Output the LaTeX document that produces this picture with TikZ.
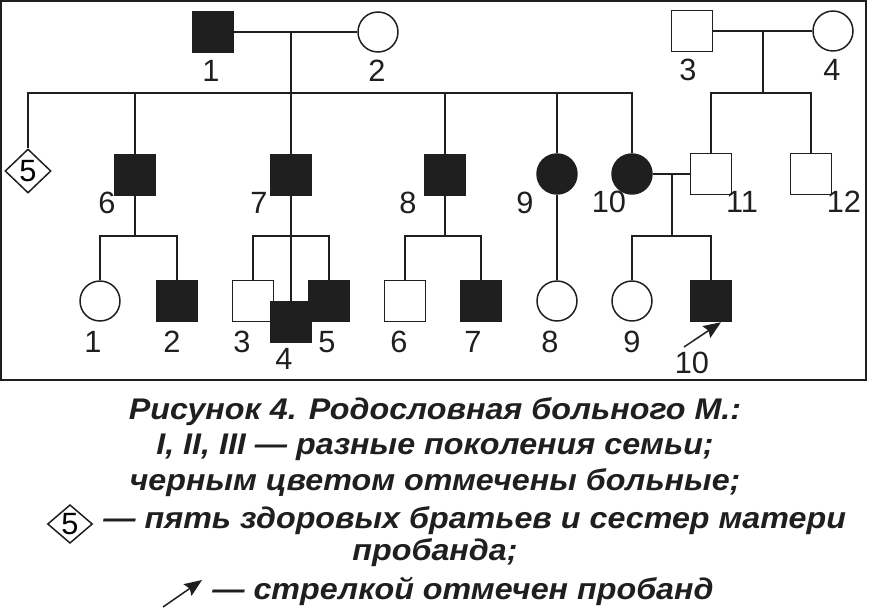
\documentclass[tikz,border=0pt]{standalone}
\usepackage{fontspec}
\setmainfont{Liberation Sans}
\newfontfamily\capfont[FakeStretch=1.08]{Liberation Sans}
\usetikzlibrary{shapes,arrows,positioning,calc,arrows.meta}
\colorlet{ink}{black!88}

\begin{document}
\begin{tikzpicture}[
    x=0.02cm, y=-0.02cm,
    male/.style={rectangle, draw=ink, line width=0.85pt, minimum size=0.82cm, inner sep=0pt, fill=white},
    female/.style={circle, draw=ink, line width=0.85pt, minimum size=0.8cm, inner sep=0pt, fill=white},
    ill/.style={fill=ink},
    sibs/.style={diamond, draw=ink, line width=0.85pt, minimum width=0.92cm, minimum height=0.88cm, inner sep=0pt, font=\fontsize{17.5}{20}\selectfont, fill=white},
    num/.style={font=\fontsize{17.5}{20}\selectfont, text=ink, inner sep=0pt},
    caption/.style={font=\fontsize{17}{20}\capfont\bfseries\itshape, text=ink, inner sep=0pt},
    line/.style={line width=0.85pt, ink},
    probarrow/.style={-{Stealth[length=10pt, width=8pt, inset=1.5pt]}, line width=0.85pt, ink}
]
\useasboundingbox (0,0) rectangle (870,612);

% Frame
\draw[line width=1.2pt, ink] (1,1) rectangle (866,380);

% Generation I
\node[male, ill] (m1) at (213,32) {};
\node[female] (f2) at (378,32) {};
\node[male] (m3) at (692,31) {};
\node[female] (f4) at (833,31) {};
\coordinate (j12) at (291,32);
\coordinate (j34) at (763,31);

% Generation II
\coordinate (g2) at (0,93);
\node[sibs] (d5) at (28,171) {5};
\node[male, ill] (s6) at (135,175) {};
\node[male, ill] (s7) at (291,175) {};
\node[male, ill] (s8) at (445,175) {};
\node[female, ill] (c9) at (557,174) {};
\node[female, ill] (c10) at (632,174) {};
\node[male] (s11) at (711,174) {};
\node[male] (s12) at (811,174) {};
\coordinate (j1011) at (672,174);

% Generation III
\coordinate (g3) at (0,236);
\node[female] (iii1) at (100,301) {};
\node[male, ill] (iii2) at (177,301) {};
\node[male] (iii3) at (253,301) {};
\node[male, ill] (iii5) at (329,301) {};
\node[male, ill] (iii4) at (291,322) {};
\node[male] (iii6) at (405,301) {};
\node[male, ill] (iii7) at (481,301) {};
\node[female] (iii8) at (557,301) {};
\node[female] (iii9) at (632,301) {};
\node[male, ill] (iii10) at (711,301) {};

% Marriages and descent
\draw[line] (m1) -- (f2);
\draw[line] (j12) -- (s7.north);
\draw[line] (d5.north) |- (c10.north |- g2) -- (c10.north);
\draw[line] (s6.north) -- (s6.north |- g2);
\draw[line] (s8.north) -- (s8.north |- g2);
\draw[line] (c9.north) -- (c9.north |- g2);
\draw[line] (m3) -- (f4);
\draw[line] (j34) -- (j34 |- g2);
\draw[line] (s11.north) |- (s12.north |- g2) -- (s12.north);
\draw[line] (c10) -- (s11);

\draw[line] (s6.south) -- (s6.south |- g3);
\draw[line] (iii1.north) |- (iii2.north |- g3) -- (iii2.north);
\draw[line] (s7.south) -- (iii4.north);
\draw[line] (iii3.north) |- (iii5.north |- g3) -- (iii5.north);
\draw[line] (s8.south) -- (s8.south |- g3);
\draw[line] (iii6.north) |- (iii7.north |- g3) -- (iii7.north);
\draw[line] (c9.south) -- (iii8.north);
\draw[line] (j1011) -- (j1011 |- g3);
\draw[line] (iii9.north) |- (iii10.north |- g3) -- (iii10.north);

% Proband
\coordinate (pa) at (684,347);
\draw[probarrow] (pa) -- ($(iii10.south)+(10,0)$);

% Numbers
\node[num] (n1) at (211,71) {1};
\node[num] (n2) at (377,71) {2};
\node[num] (n3) at (688,70) {3};
\node[num] (n4) at (832,70) {4};
\node[num] (n6) at (107,203) {6};
\node[num] (n7) at (259,203) {7};
\node[num] (n8) at (408,203) {8};
\node[num] (n9) at (525,203) {9};
\node[num] (n10) at (609,202) {10};
\node[num] (n11) at (742,202) {11};
\node[num] (n12) at (844,202) {12};
\node[num] (m1n) at (93,342) {1};
\node[num] (m2n) at (172,342) {2};
\node[num] (m3n) at (242,342) {3};
\node[num] (m4n) at (284,359) {4};
\node[num] (m5n) at (327,342) {5};
\node[num] (m6n) at (399,342) {6};
\node[num] (m7n) at (473,342) {7};
\node[num] (m8n) at (550,342) {8};
\node[num] (m9n) at (632,342) {9};
\node[num] (m10n) at (692,363) {10};

% Caption
\node[caption] (cap1) at (435,412) {Рисунок 4. Родословная больного М.:};
\node[caption] (cap2) at (435,447) {I, II, III — разные поколения семьи;};
\node[caption] (cap3) at (435,483) {черным цветом отмечены больные;};
\node[sibs, minimum width=0.9cm, minimum height=0.76cm] (key5) at (70,524) {5};
\node[caption, anchor=west] (cap4) at (103,521) {— пять здоровых братьев и сестер матери};
\node[caption] (cap5) at (435,553) {пробанда;};
\coordinate (ka) at (163,607);
\coordinate (kb) at (202,580);
\draw[probarrow] (ka) -- (kb);
\node[caption, anchor=west] (cap6) at (212,591) {— стрелкой отмечен пробанд};

\end{tikzpicture}
\end{document}
